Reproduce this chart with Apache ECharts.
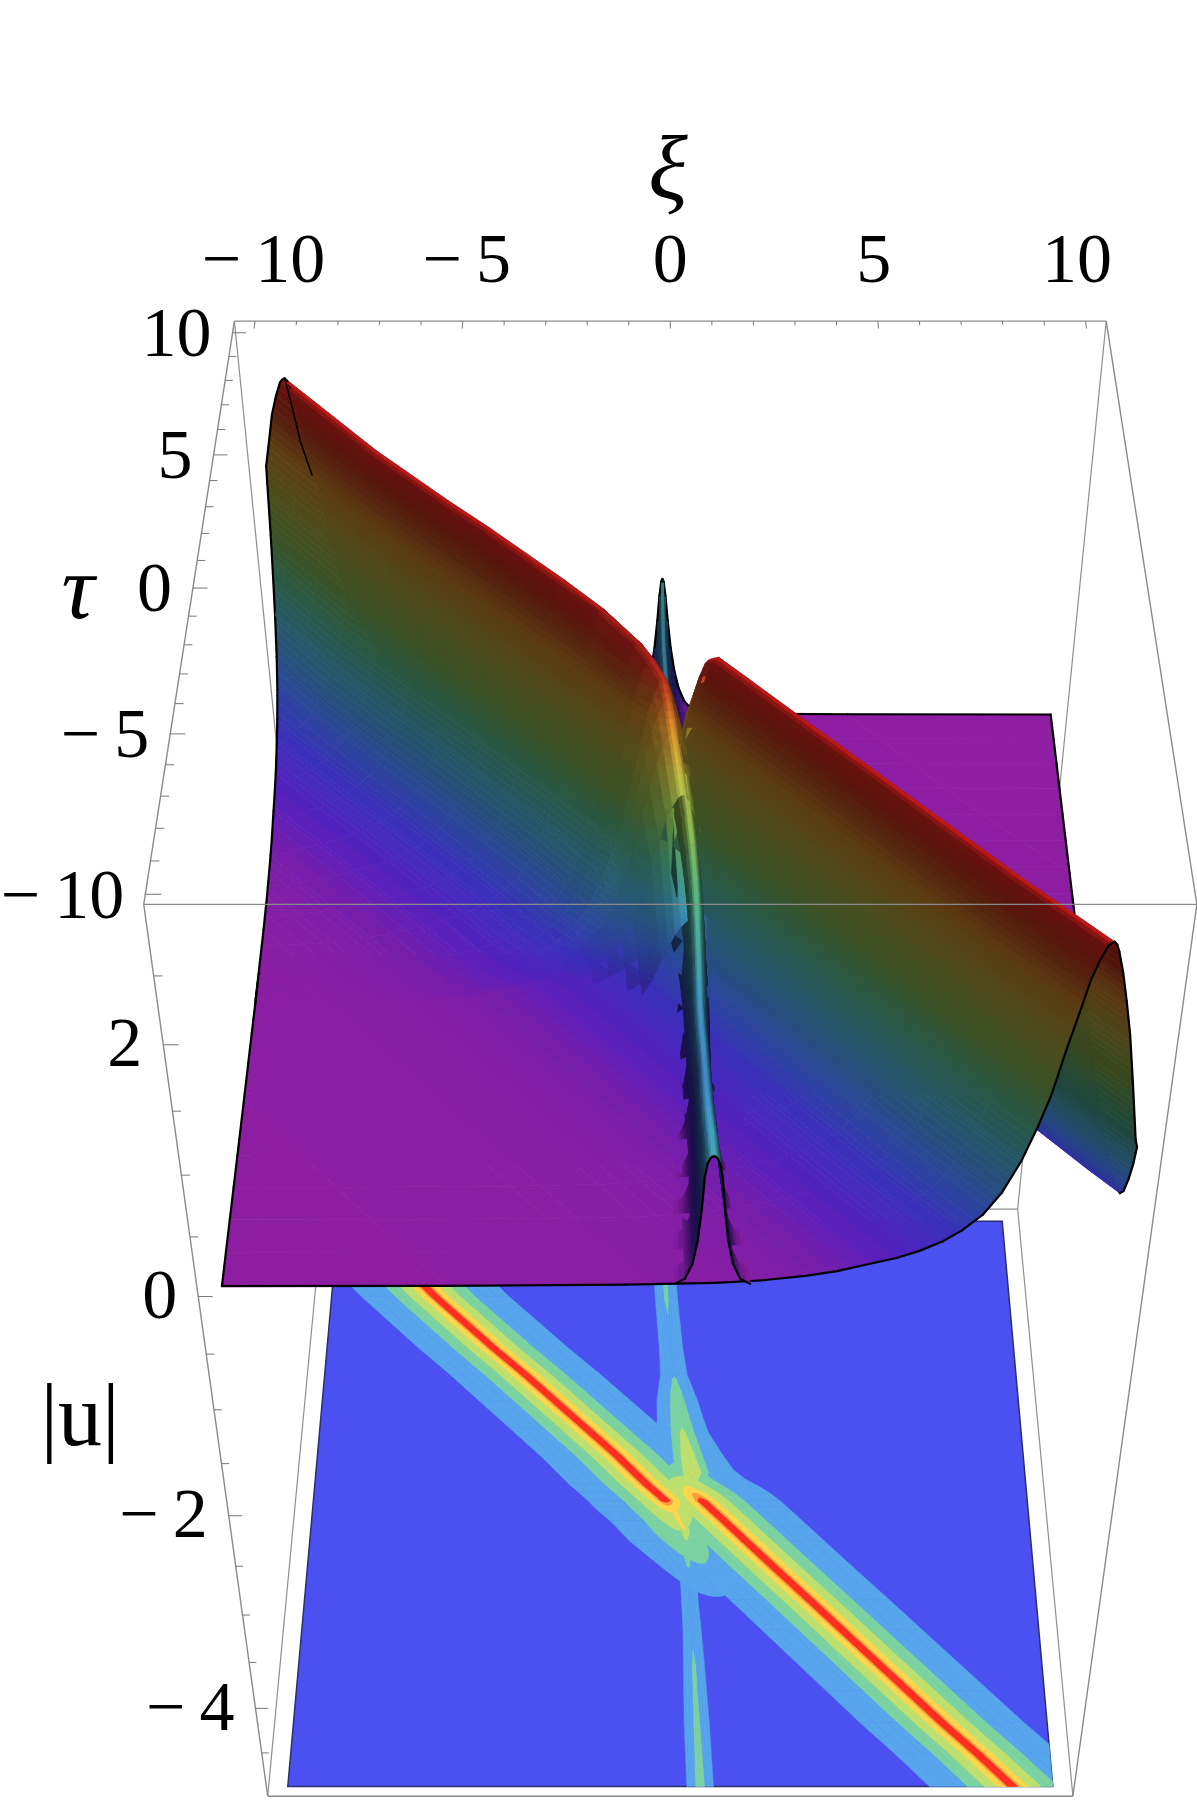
<!DOCTYPE html>
<html><head><meta charset="utf-8">
<style>html,body{margin:0;background:#fff}#c{width:1197px;height:1800px}</style>
<script src="https://cdn.jsdelivr.net/npm/echarts@6/dist/echarts.min.js"></script>
</head><body><div id="c"></div>
<script>
// ---- tick labels
const xiTicks=[-10,-5,0,5,10];
const tauTicks=[-10,-5,0,5,10];
const heightTicks=[-4,-2,0,2];
// ---- ridge cross-section: offset in xi from the crest, and height read at each offset
const ridgeOffsets=[-21,-14,-10,-8,-7,-6,-5.3,-4.6,-4,-3.5,-3,-2.6,-2.17,-1.8,-1.45,-1.17,-.95,-.73,-.55,-.39,-.25,-.12,-.06,0,.06,.12,.25,.39,.55,.73,.95,1.17,1.45,1.8,2.17,2.6,3,3.5,4,4.6,5.3,6,7,8,10,14,21];
const ridgeHeights=[0,.005,.015,.03,.05,.09,.13,.19,.24,.3,.38,.47,.6,.78,1.03,1.3,1.55,1.9,2.16,2.4,2.54,2.64,2.66,2.67,2.66,2.64,2.54,2.4,2.16,1.9,1.55,1.3,1.03,.78,.6,.47,.38,.3,.24,.19,.13,.09,.05,.03,.015,.005,0];
const surfaceHeights=[0,.005,.015,.03,.05,.09,.13,.19,.24,.3,.38,.47,.6,.78,1.03,1.3,1.55,1.9,2.16,2.4,2.54,2.64,2.66,2.67,2.65,2.6,2.45,2.25,2,1.65,1.2,.95,.75,.55,.42,.33,.27,.2,.15,.11,.08,.06,.04,.02,.01,.003,0];
// ---- upper-left ridge: rows along tau
const leftTau=[10,9,8,7,6,5,4,3,2,1,0,-.3,-.6,-.8,-1,-1.3,-2,-3,-4];
const leftCrest=[-9.35,-8.55,-7.75,-6.95,-6.05,-5.15,-4.2,-3.3,-2.4,-1.5,-.68,-.4,-.13,-.03,.08,.3,.5,.55,.6];
const leftAmp=[1,1,1,1,1,1,1,1,1,.995,.98,.96,.93,.89,.82,.68,.45,.15,0];
const leftSink=[0,0,0,0,0,0,0,0,0,0,0,0,0,0,.01,.05,.25,.5,.6];
const leftMapCrest=[-9.35,-8.55,-7.75,-6.95,-6.05,-5.15,-4.2,-3.3,-2.4,-1.5,-.68,-.4,-.13,-.03,.06,.18,.4,1,1.3];
const leftMapAmp=[1,1,1,1,1,1,1,1,1,1,1,1,1,.96,.9,.8,.62,.45,.2];
// ---- lower-right ridge
const rightTau=[2,1.2,.6,.2,-.1,-.35,-.6,-.8,-1,-1.5,-2,-3,-4,-5,-6,-7,-8,-9,-10];
const rightCrest=[.3,.3,.35,.45,.6,.75,.9,1.07,1.24,1.67,2.09,2.94,3.8,4.65,5.5,6.35,7.2,8.1,9];
const rightAmp=[.03,.15,.37,.62,.76,.9,.98,1,1,1,1,1,1,1,1,1,1,1,1];
const rightSink=[.3,.2,.1,.03,0,0,0,0,0,0,0,0,0,0,0,0,0,0,0];
const rightMapCrest=[.35,.35,.3,.3,.47,.69,.9,1.07,1.24,1.67,2.09,2.94,3.8,4.65,5.5,6.35,7.2,8.1,8.95];
const rightMapAmp=[.2,.35,.55,.75,.9,.97,1,1,1,1,1,1,1,1,1,1,1,1,1];
// ---- the thin stem along tau: cross-sections for the map and for the surface
const stemOffsets=[-3,-2,-1.5,-1.1,-.8,-.55,-.35,-.2,-.08,0,.08,.2,.35,.55,.8,1.1,1.5,2,3];
const stemShape=[0,.04,.1,.2,.33,.5,.7,.88,.98,1,.98,.88,.7,.5,.33,.2,.1,.04,0];
const wallOffsets=[-3,-2.2,-1.6,-1.2,-.9,-.7,-.5,-.3,-.15,0,.15,.3,.5,.7,.9,1.2,1.6,2.2,3];
const wallShape=[.02,.06,.18,.36,.6,.84,.94,.98,.995,1,.995,.98,.94,.84,.6,.36,.18,.06,.02];
// back part of stem (tau > 0)
const backTau=[10,9,8,7,6,5,4,3,2,1,.4,-.3];
const backXi=[-.2,-.19,-.17,-.12,-.05,.02,.1,.2,.33,.5,.62,.55];
const backZ=[1.13,1.08,1.03,.98,.93,.9,.92,1,1.15,1.4,1.7,1.9];
const backHalf=[.38,.39,.4,.42,.44,.46,.48,.5,.52,.55,.55,.55];
const backMapZ=[1.5,1.45,1.4,1.34,1.28,1.22,1.27,1.6,1.9,2.2,2.42,2];
const backMapHalf=[.5,.5,.5,.52,.56,.6,.65,.8,.85,.9,.9,.6];
// front part of stem (tau < 0)
const frontTau=[-1.3,-1.6,-2,-2.5,-3,-3.5,-4,-4.5,-5,-5.5,-6,-6.5,-7,-7.5,-8,-8.5,-9,-9.5,-10];
const frontXi=[.3,.41,.5,.56,.6,.62,.64,.655,.67,.7,.74,.77,.79,.81,.83,.86,.89,.915,.94];
const frontZ=[1.93,1.73,1.55,1.42,1.31,1.22,1.13,1.05,.98,.94,.91,.89,.9,.92,.95,.98,1.01,1.04,1.07];
const frontHalf=[.3,.285,.27,.26,.25,.24,.23,.225,.22,.22,.22,.22,.23,.24,.25,.26,.27,.275,.28];
const frontMapTau=[-.9,-1.3,-1.65,-2,-3,-4,-5,-6,-8,-10];
const frontMapXi=[.1,.25,.42,.45,.5,.53,.59,.63,.7,.78];
const frontMapZ=[2.55,2.5,2.42,1.85,1.25,1.2,1.25,1.32,1.42,1.5];
const frontMapHalf=[.5,.5,.4,.35,.4,.4,.42,.45,.5,.5];
// pale shoulder where the stem joins the right-hand band on the map
const shoulderTau=[4,3,2,1,0,-.5];
const shoulderXi=[.3,.45,.7,1.1,1.5,1.8];
const shoulderZ=[.65,.8,.9,1,1.2,1.2];
const shoulderHalf=[.6,.7,.8,.9,1,1];
// short black edge seen near the far crest
const stubXi=[-9.35,-9.25,-9.1,-8.88];
const stubZ=[2.67,2.5,2.2,1.94];
// ---- colour of height under full light
const hueZ=[0,.1,.25,.45,.7,1,1.3,1.6,1.9,2.2,2.5,2.64,2.67];
const hueRGB=[[142,30,162],[122,30,170],[82,32,190],[62,55,205],[60,110,215],[70,165,200],[90,195,150],[150,205,90],[205,195,70],[235,150,45],[190,45,30],[175,28,25],[205,25,25]];
const bandEdges=[-1,.02,.04,.06,.08,.1,.13,.16,.2,.24,.28,.32,.36,.4,.45,.5,.55,.6,.65,.7,.75,.8,.85,.9,.95,1,1.05,1.1,1.15,1.2,1.25,1.3,1.35,1.4,1.45,1.5,1.55,1.6,1.65,1.7,1.75,1.8,1.85,1.9,1.95,2,2.05,2.1,2.15,2.2,2.25,2.3,2.35,2.4,2.45,2.5,2.55,2.6,2.64,9];
// ---- contour map on the floor
const mapLevels=[.6,1.3,1.9,2.4,2.58,2.64];
const mapColors=['#57A5EC','#7DD3A0','#BFE06E','#FFD54B','#F89A3E','#FF2A20'];
const mapBase='#4B50F0';

// ---- perspective of the box (xi in +-10.5, tau -10.3 .. 10.5, height 3 .. -5)
const BOX=10.5, FRONT=-10.3, Z_TOP=3, Z_BOT=-5;
const sOf=tau=>(tau-FRONT)/(BOX-FRONT);
function depth(tau,z){const t=(Z_TOP-z)/(Z_TOP-Z_BOT);return 1+.208*sOf(tau)+.308*t;}
function proj(xi,tau,z){const s=sOf(tau),t=(Z_TOP-z)/(Z_TOP-Z_BOT),w=depth(tau,z);
  return [670.3+50.15*xi/w,(904.4-516.5*s+1445*t)/w];}

function clip(poly,f){const out=[];for(let i=0;i<poly.length;i++){const a=poly[i],b=poly[(i+1)%poly.length],fa=f(a),fb=f(b);
  if(fa>=0)out.push(a);
  if((fa>=0)!==(fb>=0)){const k=fa/(fa-fb);out.push({x:a.x+k*(b.x-a.x),y:a.y+k*(b.y-a.y),z:a.z+k*(b.z-a.z),b:a.b+k*(b.b-a.b)});}}
  return out;}
function hue(z){let i=0;while(i<hueZ.length-2&&z>hueZ[i+1])i++;const k=Math.max(0,Math.min(1,(z-hueZ[i])/(hueZ[i+1]-hueZ[i])));
  return hueRGB[i].map((c,n)=>c+k*(hueRGB[i+1][n]-c));}
function ridgeSheet(tau,crest,amp,heights,sink){return tau.map((t,i)=>ridgeOffsets.map((o,j)=>({x:crest[i]+o,y:t,z:amp[i]*heights[j]-(sink&&o<=1?sink[i]:0),b:1})));}
function stemSheet(tau,xi,zs,half,offs,shape){return tau.map((t,i)=>offs.map((o,j)=>({x:xi[i]+o*half[i],y:t,z:zs[i]*shape[j],b:1})));}
// light depends on the slope across the sheet; rows only carry the sheet along tau
function light(G){const R=G.length,C=G[0].length,k=2;for(let i=0;i<R;i++)for(let j=0;j<C;j++){
  const a=G[i][Math.max(0,j-1)],c=G[i][Math.min(C-1,j+1)],d=G[Math.max(0,i-1)][j],e=G[Math.min(R-1,i+1)][j];
  const u=[c.x-a.x,c.y-a.y,k*(c.z-a.z)],v=[e.x-d.x,e.y-d.y,0];
  const n=[u[1]*v[2]-u[2]*v[1],u[2]*v[0]-u[0]*v[2],u[0]*v[1]-u[1]*v[0]];
  const nz=Math.abs(n[2])/(Math.hypot(n[0],n[1],n[2])||1);G[i][j].b=Math.min(1,Math.hypot(nz,.3));}}

const surfacePolys=[],edgeSegs=[];
function addSurface(G){light(G);
  for(let i=0;i<G.length-1;i++)for(let j=0;j<G[0].length-1;j++){
    let p=[G[i][j],G[i][j+1],G[i+1][j+1],G[i+1][j]];
    p=clip(clip(p,v=>v.x+10),v=>10-v.x);if(p.length<3)continue;
    let dep=0;p.forEach(v=>dep+=depth(v.y,v.z));dep/=p.length;
    p.forEach((v,k)=>{const q=p[(k+1)%p.length];
      const onX=Math.abs(Math.abs(v.x)-10)<1e-6&&Math.abs(Math.abs(q.x)-10)<1e-6&&v.x*q.x>0;
      const onT=Math.abs(Math.abs(v.y)-10)<1e-6&&Math.abs(Math.abs(q.y)-10)<1e-6&&v.y===q.y;
      if((onX||onT)&&(v.x!==q.x||v.y!==q.y))edgeSegs.push({a:v,c:q,dep:dep-.0015});});
    for(let k=0;k<bandEdges.length-1;k++){
      const lo=bandEdges[k],hi=bandEdges[k+1];
      const q=clip(clip(p,v=>v.z-lo),v=>hi-v.z);if(q.length<3)continue;
      let z=0,b=0;q.forEach(v=>{z+=v.z;b+=v.b;});z/=q.length;b/=q.length;
      const c=hue(z).map(x=>Math.round(x*b));
      surfacePolys.push({pts:q.map(v=>proj(v.x,v.y,v.z)),fill:'rgb('+c.join(',')+')',dep});
    }
  }}
addSurface(ridgeSheet(leftTau,leftCrest,leftAmp,surfaceHeights,leftSink));
addSurface(ridgeSheet(rightTau,rightCrest,rightAmp,surfaceHeights,rightSink));
addSurface(stemSheet(backTau,backXi,backZ,backHalf,stemOffsets,stemShape));
addSurface(stemSheet(frontTau,frontXi,frontZ,frontHalf,wallOffsets,wallShape));
edgeSegs.forEach(e=>surfacePolys.push({line:[proj(e.a.x,e.a.y,e.a.z),proj(e.c.x,e.c.y,e.c.z)],dep:e.dep}));
surfacePolys.forEach((p,i)=>p.n=i);
surfacePolys.sort((a,b)=>b.dep-a.dep||a.n-b.n);

// contour map polygons, lowest level first
const mapPolys=[];
const FL=-5;
const mapSheets=[ridgeSheet(leftTau,leftMapCrest,leftMapAmp,ridgeHeights),ridgeSheet(rightTau,rightMapCrest,rightMapAmp,ridgeHeights),
  stemSheet(backTau,backXi,backMapZ,backMapHalf,stemOffsets,stemShape),stemSheet(frontMapTau,frontMapXi,frontMapZ,frontMapHalf,stemOffsets,stemShape),
  stemSheet(shoulderTau,shoulderXi,shoulderZ,shoulderHalf,stemOffsets,stemShape)];
mapPolys.push({pts:[[-10,-10],[10,-10],[10,10],[-10,10]].map(v=>proj(v[0],v[1],FL)),fill:mapBase,stroke:'#2b2f6e',lw:1.5});
mapLevels.forEach((L,li)=>{mapSheets.forEach(G=>{
  for(let i=0;i<G.length-1;i++)for(let j=0;j<G[0].length-1;j++){
    let p=[G[i][j],G[i][j+1],G[i+1][j+1],G[i+1][j]];
    p=clip(clip(clip(p,v=>v.x+10),v=>10-v.x),v=>v.z-L);if(p.length<3)continue;
    mapPolys.push({pts:p.map(v=>proj(v.x,v.y,FL)),fill:mapColors[li],stroke:mapColors[li],lw:.5});
  }});});

// box lines
const T=Z_TOP,B=Z_BOT,H=BOX,F=FRONT;
const backLines=[[[-H,H,T],[-H,H,B]],[[H,H,T],[H,H,B]],[[-H,H,B],[H,H,B]],[[-H,H,B],[-H,F,B]],[[H,H,B],[H,F,B]]];
const frontLines=[[[-H,H,T],[H,H,T]],[[-H,H,T],[-H,F,T]],[[H,H,T],[H,F,T]],[[-H,F,T],[H,F,T]],[[-H,F,T],[-H,F,B]],[[H,F,T],[H,F,B]],[[-H,F,B],[H,F,B]]];
const tickLines=[];
for(let v=-10;v<=10;v++){const M=v%5===0;
  tickLines.push([[v,H,T],[v,H-(M?.32:.18),T]]);
  tickLines.push([[-H,v,T],[-H+(M?.32:.18),v,T]]);}
for(let v=-4.5;v<=2.5;v+=.5){const M=v%2===0;tickLines.push([[-H,F,v],[-H+(M?.32:.18),F,v]]);}
const stubLines=stubXi.slice(1).map((x,i)=>[[stubXi[i],10,stubZ[i]],[x,10,stubZ[i+1]]]);

const neg=v=>v<0?'\u2212\u2009'+Math.abs(v):String(v);
const SERIF='Liberation Serif';
const texts=[];
xiTicks.forEach(v=>{const p=proj(v,H,T);texts.push({p:[668+(p[0]-668)*.98,p[1]-57],t:neg(v),a:'center'});});
tauTicks.forEach(v=>{const p=proj(-H,v,T);texts.push({p:[p[0]-21,p[1]+5],t:neg(v),a:'right'});});
heightTicks.forEach(v=>{const p=proj(-H,F,v);texts.push({p:[p[0]-21,p[1]+3],t:neg(v),a:'right'});});
const TITLES=[{t:'\u03be',at:[668,175],style:'italic',size:92},{t:'\u03c4',at:[78,594],style:'italic',size:92},{t:'|u|',at:[80,1422],style:'normal',size:88}];

const chart=echarts.init(document.getElementById('c'),null,{renderer:'canvas'});
const pt=(api,p)=>api.coord(p);
function seriesOf(list,render,z){return {type:'custom',coordinateSystem:'cartesian2d',clip:false,silent:true,animation:false,progressive:0,z,data:list.map((_,i)=>[i]),encode:{x:0,y:0},renderItem:render};}
function lineRender(list,stroke,lw){return (params,api)=>{const l=list[params.dataIndex],a=pt(api,proj(...l[0])),b=pt(api,proj(...l[1]));
  return {type:'line',shape:{x1:a[0],y1:a[1],x2:b[0],y2:b[1]},style:{stroke,lineWidth:lw}};};}
chart.setOption({animation:false,
  grid:{left:0,right:0,top:0,bottom:0},
  xAxis:{type:'value',min:0,max:1197,show:false},
  yAxis:{type:'value',min:0,max:1800,inverse:true,show:false},
  series:[
    seriesOf(backLines,lineRender(backLines,'#8f8f8f',1.2),1),
    seriesOf(mapPolys,(params,api)=>{const m=mapPolys[params.dataIndex];
      return {type:'polygon',shape:{points:m.pts.map(p=>pt(api,p))},style:{fill:m.fill,stroke:m.stroke,lineWidth:m.lw}};},2),
    seriesOf(surfacePolys,(params,api)=>{const m=surfacePolys[params.dataIndex];
      if(m.line){const a=pt(api,m.line[0]),b=pt(api,m.line[1]);return {type:'line',shape:{x1:a[0],y1:a[1],x2:b[0],y2:b[1]},style:{stroke:'#000',lineWidth:2.2,lineCap:'round'}};}
      return {type:'polygon',shape:{points:m.pts.map(p=>pt(api,p))},style:{fill:m.fill,stroke:m.fill,lineWidth:.7}};},3),
    seriesOf(stubLines,lineRender(stubLines,'#000',1.6),4),
    seriesOf(frontLines,lineRender(frontLines,'#8a8a8a',1.4),5),
    seriesOf(tickLines,lineRender(tickLines,'#777',1),5),
    seriesOf(texts,(params,api)=>{const m=texts[params.dataIndex],p=pt(api,m.p);
      return {type:'text',style:{x:p[0],y:p[1],text:m.t,fontFamily:SERIF,fontSize:70,fill:'#000',align:m.a,verticalAlign:'middle'}};},6),
    seriesOf(TITLES,(params,api)=>{const m=TITLES[params.dataIndex],p=pt(api,m.at);
      return {type:'text',style:{x:p[0],y:p[1],text:m.t,fontFamily:SERIF,fontStyle:m.style,fontSize:m.size,fill:'#000',align:'center',verticalAlign:'middle'}};},6)
  ]});
</script></body></html>
